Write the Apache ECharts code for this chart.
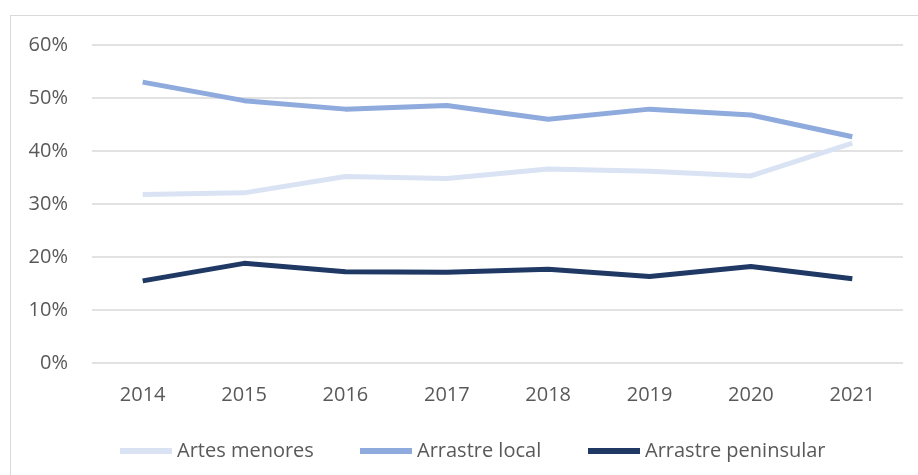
<!DOCTYPE html>
<html>
<head>
<meta charset="utf-8">
<script src="https://cdn.jsdelivr.net/npm/echarts@6/dist/echarts.min.js"></script>
<style>
  html, body { margin: 0; padding: 0; background: #fff; }
  #frame { position: absolute; left: 10px; top: 15px; width: 930px; height: 480px; border: 1px solid #d9d9d9; box-sizing: border-box; }
  #chart { width: 918px; height: 475px; }
</style>
</head>
<body>
<div id="frame"></div>
<div id="chart"></div>
<script>
// Share of landings by fleet segment, 2014-2021 (percent)
const years = ['2014', '2015', '2016', '2017', '2018', '2019', '2020', '2021'];
const artesMenores = [31.8, 32.1, 35.2, 34.8, 36.6, 36.2, 35.3, 41.5];
const arrastreLocal = [53.0, 49.5, 47.9, 48.6, 46.0, 47.9, 46.8, 42.7];
const arrastrePeninsular = [15.5, 18.8, 17.2, 17.1, 17.7, 16.3, 18.2, 15.9];
const yTicks = [0, 10, 20, 30, 40, 50, 60];

const seriesNames = ['Artes menores', 'Arrastre local', 'Arrastre peninsular'];
const seriesColors = ['#dae3f3', '#8faadc', '#1f3864'];
const seriesData = [artesMenores, arrastreLocal, arrastrePeninsular];

const font = "'Open Sans', 'Noto Sans', sans-serif";
const textColor = '#595959';

// one legend block per series so each entry sits at its own x
const legendLeft = [115, 355, 583];
const legends = seriesNames.map((name, i) => ({
  top: 436,
  left: legendLeft[i],
  itemWidth: 52,
  itemHeight: 6,
  icon: 'rect',
  textStyle: { fontFamily: font, fontSize: 20, color: textColor },
  data: [name]
}));

const chart = echarts.init(document.getElementById('chart'), null, { renderer: 'canvas' });
chart.setOption({
  backgroundColor: 'transparent',
  animation: false,
  grid: { left: 92, right: 15, top: 45, bottom: 112, containLabel: false },
  legend: legends,
  xAxis: {
    type: 'category',
    data: years,
    boundaryGap: true,
    axisLine: { show: false },
    axisTick: { show: false },
    axisLabel: { fontFamily: font, fontSize: 20, color: textColor, margin: 22 }
  },
  yAxis: {
    type: 'value',
    min: yTicks[0],
    max: yTicks[yTicks.length - 1],
    interval: 10,
    axisLine: { show: false },
    axisTick: { show: false },
    axisLabel: { fontFamily: font, fontSize: 20, color: textColor, margin: 24, formatter: v => v + '%' },
    splitLine: { lineStyle: { color: '#d9d9d9', width: 1.5 } }
  },
  series: seriesNames.map((name, i) => ({
    name: name,
    type: 'line',
    data: seriesData[i],
    symbol: 'none',
    smooth: false,
    lineStyle: { color: seriesColors[i], width: 5, cap: 'butt', join: 'round' },
    itemStyle: { color: seriesColors[i] }
  }))
});
</script>
</body>
</html>
